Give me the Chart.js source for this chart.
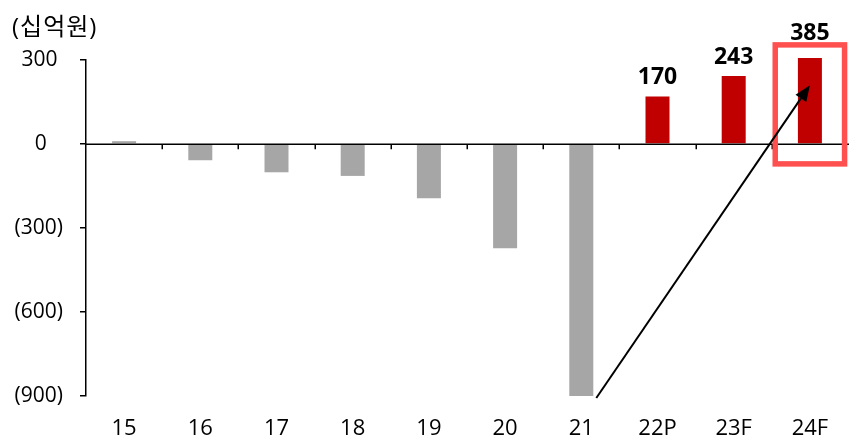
<!DOCTYPE html>
<html lang="ko">
<head>
<meta charset="utf-8">
<title>연간 영업이익 추이</title>
<script src="https://cdn.jsdelivr.net/npm/chart.js@4/dist/chart.umd.min.js"></script>
<style>
  html, body { margin: 0; padding: 0; background: #fff; }
  #wrap { width: 854px; height: 443px; }
</style>
</head>
<body>
<div id="wrap"><canvas id="chart"></canvas></div>
<script>
// Fiscal years (P = preliminary, F = forecast)
const categories = ['15', '16', '17', '18', '19', '20', '21', '22P', '23F', '24F'];
// Operating profit, KRW billions
const values = [10, -58, -101, -114, -194, -372, -900, 170, 243, 385];
// Y axis ticks
const yTicks = [300, 0, -300, -600, -900];
const unitLabel = '(십억원)';

const FONT = '"Open Sans", "Noto Sans CJK KR", sans-serif';
const GREY = '#A6A6A6';
const RED = '#C00000';
const isEstimate = c => /[PF]$/.test(c);

// Accounting style: negatives in parentheses, positives padded to line up
function fmtTick(v) {
  if (v < 0) return '(' + Math.abs(v).toLocaleString('en-US') + ')';
  if (v === 0) return '0   ';
  return v.toLocaleString('en-US') + ' ';
}

// Unit caption in the top-left corner
const unitCaption = {
  id: 'unitCaption',
  afterDraw(chart) {
    const { ctx } = chart;
    ctx.save();
    ctx.font = '24px ' + FONT;
    if ('letterSpacing' in ctx) ctx.letterSpacing = '1px';
    ctx.fillStyle = '#000';
    ctx.textAlign = 'left';
    ctx.textBaseline = 'middle';
    ctx.fillText(unitLabel, 12, 28);
    ctx.restore();
  }
};

// Zero line with short tick marks between the years
const zeroAxis = {
  id: 'zeroAxis',
  afterDatasetsDraw(chart) {
    const { ctx, chartArea } = chart;
    const x = chart.scales.x, y = chart.scales.y;
    const y0 = Math.round(y.getPixelForValue(0)) + 0.25;
    const cw = x.getPixelForValue(1) - x.getPixelForValue(0);
    ctx.save();
    ctx.strokeStyle = '#000';
    ctx.lineWidth = 1.5;
    ctx.beginPath();
    ctx.moveTo(chartArea.left, y0);
    ctx.lineTo(chartArea.right + 1, y0);
    for (let i = 1; i < categories.length; i++) {
      const tx = Math.round(x.getPixelForValue(i) - cw / 2) + 0.25;
      ctx.moveTo(tx, y0);
      ctx.lineTo(tx, y0 + 5);
    }
    ctx.stroke();
    ctx.restore();
  }
};

// Bold value labels above the estimate bars
const valueLabels = {
  id: 'valueLabels',
  afterDatasetsDraw(chart) {
    const { ctx, chartArea } = chart;
    const meta = chart.getDatasetMeta(0);
    ctx.save();
    ctx.font = 'bold 23px ' + FONT;
    ctx.fillStyle = '#000';
    ctx.textAlign = 'center';
    ctx.textBaseline = 'middle';
    meta.data.forEach((bar, i) => {
      if (!isEstimate(categories[i])) return;
      const top = Math.max(bar.y, chartArea.top - 8);
      ctx.fillText(String(values[i]), bar.x, top - 19);
    });
    ctx.restore();
  }
};

// Turnaround arrow from the 2021 trough to the 2024 forecast, plus highlight box
const turnaround = {
  id: 'turnaround',
  afterDatasetsDraw(chart) {
    const { ctx } = chart;
    const x = chart.scales.x, y = chart.scales.y;
    const meta = chart.getDatasetMeta(0);
    const from = meta.data[categories.indexOf('21')];
    const toIdx = categories.indexOf('24F');
    const x0 = from.x + from.width / 2 + 3;
    const y0 = y.getPixelForValue(-900) + 2;
    const x1 = x.getPixelForValue(toIdx);
    const y1 = y.getPixelForValue(210);

    ctx.save();
    // highlight box around the 24F column
    const cw = x.getPixelForValue(1) - x.getPixelForValue(0);
    const bx0 = x1 - cw * 0.455, bx1 = x1 + cw * 0.455;
    const by0 = y.getPixelForValue(354), by1 = y.getPixelForValue(-71);
    ctx.strokeStyle = '#FF5050';
    ctx.lineWidth = 5.5;
    ctx.strokeRect(bx0, by0, bx1 - bx0, by1 - by0);

    // arrow shaft
    const ang = Math.atan2(y1 - y0, x1 - x0);
    const headLen = 16, headHalf = 6.5;
    const bxh = x1 - headLen * Math.cos(ang), byh = y1 - headLen * Math.sin(ang);
    ctx.strokeStyle = '#000';
    ctx.lineWidth = 2;
    ctx.beginPath();
    ctx.moveTo(x0, y0);
    ctx.lineTo(bxh, byh);
    ctx.stroke();
    // arrow head
    ctx.fillStyle = '#000';
    ctx.beginPath();
    ctx.moveTo(x1, y1);
    ctx.lineTo(bxh + headHalf * Math.sin(ang), byh - headHalf * Math.cos(ang));
    ctx.lineTo(bxh - headHalf * Math.sin(ang), byh + headHalf * Math.cos(ang));
    ctx.closePath();
    ctx.fill();
    ctx.restore();
  }
};

new Chart(document.getElementById('chart'), {
  type: 'bar',
  data: {
    labels: categories,
    datasets: [{
      data: values,
      backgroundColor: categories.map(c => isEstimate(c) ? RED : GREY),
      borderWidth: 0,
      barPercentage: 0.315,
      categoryPercentage: 1.0,
      clip: { left: 0, top: 2, right: 0, bottom: 2 }
    }]
  },
  options: {
    responsive: true,
    maintainAspectRatio: false,
    animation: false,
    layout: { padding: { left: 12, right: 6, top: 60, bottom: 0 } },
    plugins: {
      legend: { display: false },
      tooltip: { enabled: false },
      title: { display: false }
    },
    scales: {
      x: {
        type: 'category',
        position: 'bottom',
        offset: true,
        grid: { display: false, drawTicks: false },
        border: { display: false },
        ticks: { color: '#000', font: { family: FONT, size: 22 }, padding: 20, maxRotation: 0, autoSkip: false },
        afterFit: s => { s.height = 47; }
      },
      y: {
        min: -900,
        max: 300,
        afterBuildTicks: s => { s.ticks = yTicks.map(v => ({ value: v })); },
        grid: { drawOnChartArea: false, drawTicks: true, tickLength: 6, color: '#000', lineWidth: 1.5 },
        border: { display: true, color: '#000', width: 1.5 },
        ticks: {
          color: '#000',
          font: { family: FONT, size: 21 },
          padding: 17,
          callback: v => fmtTick(v)
        },
        afterFit: s => { s.width = 74; }
      }
    }
  },
  plugins: [zeroAxis, valueLabels, turnaround, unitCaption]
});
</script>
</body>
</html>
